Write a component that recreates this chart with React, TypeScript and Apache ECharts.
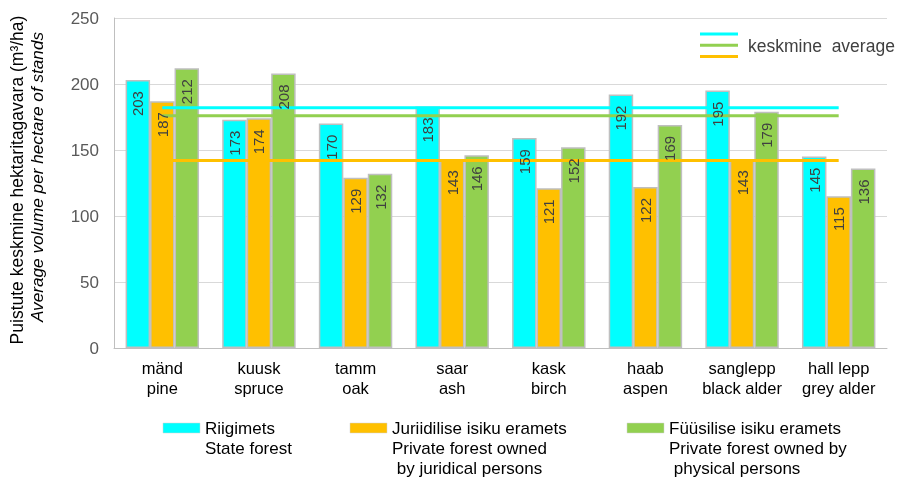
import React, { useEffect, useRef } from "react";
import * as echarts from "echarts";

const categories = [
  "mänd\npine",
  "kuusk\nspruce",
  "tamm\noak",
  "saar\nash",
  "kask\nbirch",
  "haab\naspen",
  "sanglepp\nblack alder",
  "hall lepp\ngrey alder",
];
const stateForest = [203, 173, 170, 183, 159, 192, 195, 145];
const juridicalForest = [187, 174, 129, 143, 121, 122, 143, 115];
const physicalForest = [212, 208, 132, 146, 152, 169, 179, 136];
const averageState = 182;
const averageJuridical = 142;
const averagePhysical = 176;

const seriesNames = [
  "Riigimets\nState forest",
  "Juriidilise isiku eramets\nPrivate forest owned\n by juridical persons",
  "Füüsilise isiku eramets\nPrivate forest owned by\n physical persons",
];
const colors = ["#00FFFF", "#FFC000", "#92D050"];
const FONT = "Liberation Sans, Arial, sans-serif";

export default function App() {
  const ref = useRef<HTMLDivElement>(null);
  useEffect(() => {
    if (!ref.current) return;
    const chart = echarts.init(ref.current, null, { renderer: "svg" });
    const data = [stateForest, juridicalForest, physicalForest];
    const barSeries = data.map((d, i) => ({
      name: seriesNames[i],
      type: "bar",
      data: d,
      barGap: "0%",
      barCategoryGap: "24%",
      itemStyle: { color: colors[i], borderColor: "#BFBFBF", borderWidth: 1.5 },
      z: 2,
    }));
    const labelSeries = data.map((d, i) => ({
      name: "label" + i,
      type: "bar",
      xAxisIndex: 1,
      data: d,
      barGap: "0%",
      barCategoryGap: "24%",
      silent: true,
      itemStyle: { color: "rgba(0,0,0,0)", borderWidth: 0 },
      label: {
        show: true,
        position: "insideTop",
        rotate: 90,
        align: "right",
        verticalAlign: "middle",
        distance: 11,
        fontSize: 15,
        fontFamily: FONT,
        color: "#404040",
      },
      z: 10,
    }));
    const avg = [averageState, averagePhysical, averageJuridical];
    const avgColors = [colors[0], colors[2], colors[1]];
    const lineSeries = avg.map((v, i) => ({
      name: "avg" + i,
      type: "line",
      data: categories.map(() => v),
      showSymbol: false,
      symbol: "none",
      silent: true,
      lineStyle: { color: avgColors[i], width: 3 },
      z: 5 - i,
    }));

    const legendGraphics: any[] = [];
    const legendX = [163, 350, 627];
    seriesNames.forEach((n, i) => {
      legendGraphics.push({
        type: "rect",
        shape: { x: legendX[i], y: 423, width: 37, height: 10 },
        style: { fill: colors[i], stroke: "#D0D0D0", lineWidth: 0.5 },
      });
      legendGraphics.push({
        type: "text",
        x: legendX[i] + 42,
        y: 418,
        style: {
          text: n,
          font: `17px ${FONT}`,
          lineHeight: 20,
          fill: "#000000",
          align: "left",
          verticalAlign: "top",
        },
      });
    });
    [colors[0], colors[2], colors[1]].forEach((c, i) => {
      legendGraphics.push({
        type: "line",
        shape: { x1: 700, y1: 34 + i * 11.3, x2: 738, y2: 34 + i * 11.3 },
        style: { stroke: c, lineWidth: 3 },
      });
    });
    legendGraphics.push({
      type: "text",
      x: 748,
      y: 46,
      style: {
        text: "keskmine  average",
        font: `17.5px ${FONT}`,
        fill: "#404040",
        align: "left",
        verticalAlign: "middle",
      },
    });
    legendGraphics.push({
      type: "text",
      x: 17,
      y: 180,
      rotation: Math.PI / 2,
      style: {
        text: "Puistute keskmine hektaritagavara (m³/ha)",
        font: `17.5px ${FONT}`,
        fill: "#000000",
        align: "center",
        verticalAlign: "middle",
      },
    });
    legendGraphics.push({
      type: "text",
      x: 37,
      y: 177,
      rotation: Math.PI / 2,
      style: {
        text: "Average volume per hectare of stands",
        font: `italic 17.2px ${FONT}`,
        fill: "#000000",
        align: "center",
        verticalAlign: "middle",
      },
    });

    chart.setOption({
      animation: false,
      textStyle: { fontFamily: FONT },
      grid: { left: 114, right: 15, top: 18, bottom: 129 },
      xAxis: [
        {
          type: "category",
          data: categories,
          axisTick: { show: false },
          axisLine: { lineStyle: { color: "#BFBFBF", width: 1 } },
          axisLabel: {
            color: "#000000",
            fontSize: 16.5,
            lineHeight: 20,
            margin: 10,
            interval: 0,
            fontFamily: FONT,
          },
        },
        { type: "category", data: categories, show: false },
      ],
      yAxis: {
        type: "value",
        min: 0,
        max: 250,
        interval: 50,
        axisLine: { show: true, lineStyle: { color: "#BFBFBF", width: 1 } },
        axisTick: { show: false },
        splitLine: { lineStyle: { color: "#D9D9D9", width: 1 } },
        axisLabel: { color: "#595959", fontSize: 17, margin: 15, fontFamily: FONT },
      },
      series: [...barSeries, ...lineSeries, ...labelSeries],
      graphic: legendGraphics,
    });
    return () => chart.dispose();
  }, []);
  return (
    <div
      ref={ref}
      style={{ position: "fixed", left: 0, top: 0, width: 902, height: 477 }}
    />
  );
}
